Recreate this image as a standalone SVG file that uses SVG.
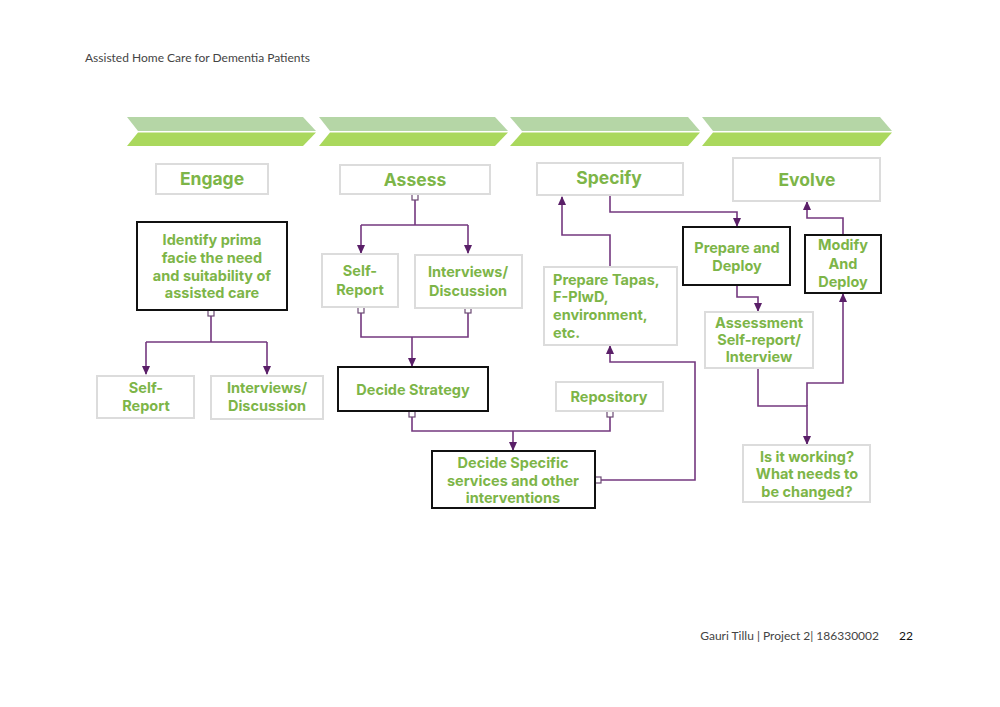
<svg xmlns="http://www.w3.org/2000/svg" width="1000" height="707" viewBox="0 0 1000 707">
<style>
.pg{font-family:Lato,"Liberation Sans",sans-serif;font-size:12px;fill:#444}
.t{font-family:Inter,"Liberation Sans",sans-serif;font-weight:700;fill:#7db548;text-anchor:middle;font-size:14.5px}
.h{font-size:17.5px}
.lt{fill:#fff;stroke:#dcdcdc;stroke-width:2}
.bk{fill:#fff;stroke:#111;stroke-width:2}
.ln{fill:none;stroke:#74387f;stroke-width:1.6}
.sq{fill:#fff;stroke:#6b4a73;stroke-width:1.2}
.top{fill:#b5d6a6}
.bot{fill:#aad85d}
</style>
<defs>
<marker id="ar" markerWidth="10" markerHeight="10" refX="8" refY="5" orient="auto" markerUnits="userSpaceOnUse">
<path d="M0,1 L9,5 L0,9 Z" fill="#5a1f68"/>
</marker>
</defs>
<rect width="1000" height="707" fill="#fff"/>
<text class="pg" x="85" y="62">Assisted Home Care for Dementia Patients</text>
<text class="pg" x="879" y="640" text-anchor="end">Gauri Tillu | Project 2| 186330002</text>
<text class="pg" x="899" y="640" style="fill:#111">22</text>

<g id="chevrons">
<path class="top" d="M127,117 L303,117 L316,131 L138,131 Z"/>
<path class="bot" d="M138,132.5 L316,132.5 L303,146 L127,146 Z"/>
<path class="top" d="M319,117 L495,117 L508,131 L330,131 Z"/>
<path class="bot" d="M330,132.5 L508,132.5 L495,146 L319,146 Z"/>
<path class="top" d="M510,117 L688,117 L700,131 L522,131 Z"/>
<path class="bot" d="M522,132.5 L700,132.5 L688,146 L510,146 Z"/>
<path class="top" d="M702,117 L880,117 L892,131 L713,131 Z"/>
<path class="bot" d="M713,132.5 L892,132.5 L880,146 L702,146 Z"/>
</g>

<g id="connectors">
<path class="ln" d="M211,313 V342 M146,342 H267" />
<path class="ln" d="M146,342 V374" marker-end="url(#ar)"/>
<path class="ln" d="M267,342 V374" marker-end="url(#ar)"/>
<path class="ln" d="M415,197 V225 M361,225 H468"/>
<path class="ln" d="M361,225 V253" marker-end="url(#ar)"/>
<path class="ln" d="M468,225 V253" marker-end="url(#ar)"/>
<path class="ln" d="M361,310 V337 H468 V310 M412,337"/>
<path class="ln" d="M412,337 V366" marker-end="url(#ar)"/>
<path class="ln" d="M412,414 V431 H610 V414"/>
<path class="ln" d="M513,431 V450" marker-end="url(#ar)"/>
<path class="ln" d="M598,480 H695 V362 H610 V346" marker-end="url(#ar)"/>
<path class="ln" d="M610,267 V235 H562 V197" marker-end="url(#ar)"/>
<path class="ln" d="M610,195 V212 H737 V226" marker-end="url(#ar)"/>
<path class="ln" d="M843,235 V218 H807 V202" marker-end="url(#ar)"/>
<path class="ln" d="M737,285 V297 H758 V311" marker-end="url(#ar)"/>
<path class="ln" d="M758,368 V406 H807 V444" marker-end="url(#ar)"/>
<path class="ln" d="M807,406 V383 H843 V294" marker-end="url(#ar)"/>
<rect class="sq" x="208" y="310" width="6" height="6"/>
<rect class="sq" x="412" y="194" width="6" height="6"/>
<rect class="sq" x="358" y="307" width="6" height="6"/>
<rect class="sq" x="465" y="307" width="6" height="6"/>
<rect class="sq" x="409" y="411" width="6" height="6"/>
<rect class="sq" x="607" y="411" width="6" height="6"/>
<rect class="sq" x="595" y="477" width="6" height="6"/>
</g>

<g id="engage"><rect class="lt" x="156" y="164" width="112" height="30"/><text class="t h" x="212" y="185">Engage</text></g>
<g id="identify"><rect class="bk" x="137" y="222" width="150" height="88"/>
<text class="t" x="212" y="245">Identify prima</text><text class="t" x="212" y="263">facie the need</text><text class="t" x="212" y="281">and suitability of</text><text class="t" x="212" y="298">assisted care</text></g>
<g id="e-self"><rect class="lt" x="97" y="376" width="97" height="42"/><text class="t" x="146" y="393">Self-</text><text class="t" x="146" y="411">Report</text></g>
<g id="e-int"><rect class="lt" x="211" y="376" width="112" height="43"/><text class="t" x="267" y="393">Interviews/</text><text class="t" x="267" y="411">Discussion</text></g>

<g id="assess"><rect class="lt" x="340" y="165" width="150" height="29"/><text class="t h" x="415" y="186">Assess</text></g>
<g id="a-self"><rect class="lt" x="322" y="254" width="76" height="53"/><text class="t" x="360" y="276">Self-</text><text class="t" x="360" y="295">Report</text></g>
<g id="a-int"><rect class="lt" x="415" y="255" width="107" height="53"/><text class="t" x="468" y="277">Interviews/</text><text class="t" x="468" y="296">Discussion</text></g>
<g id="strategy"><rect class="bk" x="338" y="367" width="150" height="44"/><text class="t" x="413" y="395">Decide Strategy</text></g>
<g id="repository"><rect class="lt" x="556" y="382" width="107" height="29"/><text class="t" x="609" y="402">Repository</text></g>
<g id="specific"><rect class="bk" x="432" y="451" width="163" height="57"/>
<text class="t" x="513" y="468">Decide Specific</text><text class="t" x="513" y="486">services and other</text><text class="t" x="513" y="503">interventions</text></g>

<g id="specify"><rect class="lt" x="537" y="163" width="146" height="32"/><text class="t h" x="609" y="184">Specify</text></g>
<g id="tapas"><rect class="lt" x="544" y="267" width="133" height="78"/>
<text class="t" text-anchor="start" x="553" y="285" style="text-anchor:start">Prepare Tapas,</text>
<text class="t" x="553" y="302" style="text-anchor:start">F-PlwD,</text>
<text class="t" x="553" y="320" style="text-anchor:start">environment,</text>
<text class="t" x="553" y="338" style="text-anchor:start">etc.</text></g>

<g id="evolve"><rect class="lt" x="733" y="158" width="147" height="43"/><text class="t h" x="807" y="186">Evolve</text></g>
<g id="prepare"><rect class="bk" x="683" y="227" width="107" height="58"/><text class="t" x="737" y="253">Prepare and</text><text class="t" x="737" y="271">Deploy</text></g>
<g id="modify"><rect class="bk" x="805" y="235" width="76" height="58"/><text class="t" x="843" y="250">Modify</text><text class="t" x="843" y="269">And</text><text class="t" x="843" y="287">Deploy</text></g>
<g id="assessment"><rect class="lt" x="705" y="312" width="108" height="56"/><text class="t" x="759" y="328">Assessment</text><text class="t" x="759" y="345">Self-report/</text><text class="t" x="759" y="362">Interview</text></g>
<g id="working"><rect class="lt" x="743" y="445" width="127" height="57"/><text class="t" x="807" y="462">Is it working?</text><text class="t" x="807" y="479">What needs to</text><text class="t" x="807" y="497">be changed?</text></g>
</svg>
